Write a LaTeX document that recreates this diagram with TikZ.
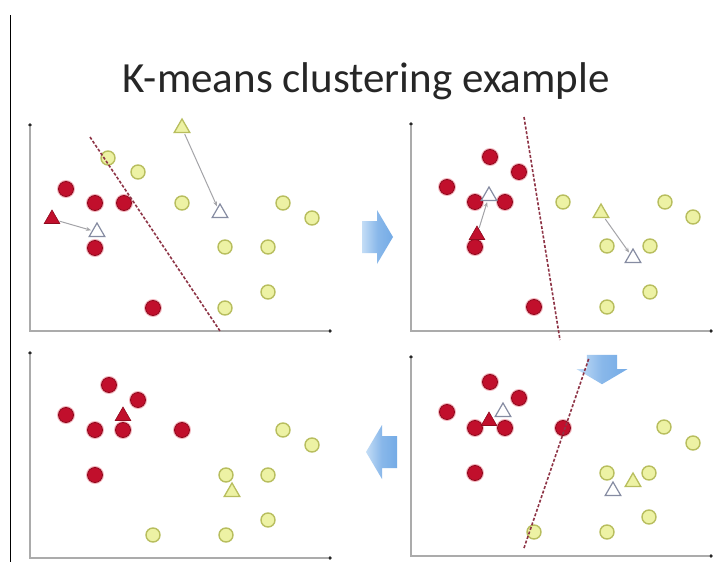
\documentclass[tikz,border=0pt]{standalone}
\usepackage{fontspec}
\setmainfont{Carlito}
\usetikzlibrary{shapes.geometric,arrows.meta}

\definecolor{ptred}{HTML}{C10F2C}
\definecolor{ptredline}{HTML}{8E0A1E}
\definecolor{ptredglow}{HTML}{F4B8C0}
\definecolor{ptyel}{HTML}{EDF2A4}
\definecolor{ptyelline}{HTML}{B8BE5E}
\definecolor{axisgray}{HTML}{ABABAB}
\definecolor{splitline}{HTML}{8E3446}
\definecolor{movegray}{HTML}{A4A4A8}
\definecolor{hollowline}{HTML}{868CA2}
\definecolor{stepblue}{HTML}{74ABE6}
\definecolor{stepbluelight}{HTML}{C4DDF6}

\tikzset{
  redpt/.style={circle, inner sep=0pt, minimum size=15pt, fill=ptred, draw=ptredline, line width=0.8pt,
    preaction={draw=ptredglow, line width=3pt}},
  yelpt/.style={circle, inner sep=0pt, minimum size=14pt, fill=ptyel, draw=ptyelline, line width=1.4pt},
  redtri/.style={regular polygon, regular polygon sides=3, inner sep=0pt, minimum size=18pt, fill=ptred, draw=ptredline, line width=0.6pt},
  yeltri/.style={regular polygon, regular polygon sides=3, inner sep=0pt, minimum size=18pt, fill=ptyel, draw=ptyelline, line width=1.3pt},
  hollowtri/.style={regular polygon, regular polygon sides=3, inner sep=0pt, minimum size=18pt, fill=white, draw=hollowline, line width=1.2pt},
  axisline/.style={draw=axisgray, line width=1.5pt},
  axisend/.style={circle, fill=black!85, inner sep=0pt, minimum size=3.8pt},
  splitter/.style={draw=splitline, line width=1.6pt, dash pattern=on 3pt off 1.8pt},
  moveline/.style={draw=movegray, line width=1pt, -{Stealth[length=5pt,width=4pt]}, shorten >=1pt, shorten <=1pt},
  blockarrow/.pic={
    \shade[left color=stepbluelight, right color=stepblue, middle color=stepblue!85]
      (-15,-16) -- (0,-16) -- (0,-27) -- (16,0) -- (0,27) -- (0,16) -- (-15,16) -- cycle;
  },
}

\begin{document}
\begin{tikzpicture}[x=1pt, y=-1pt]
\useasboundingbox (0,0) rectangle (716,562);
\fill[white] (0,0) rectangle (716,562);

% frame edge on the left
\coordinate (edgetop) at (10,15);
\coordinate (edgebot) at (10,562);
\draw[black, line width=1pt] (edgetop) -- (edgebot);

% title
\node[anchor=base, text=black!85, font=\fontsize{43}{50}\selectfont] (title) at (366,92) {K-means clustering example};

% axes of the four panels
\foreach \n/\cx/\cy/\ty in {a/30/331/125, b/411/331/124, c/30/558/353, d/411/556/357}{
  \coordinate (\n corner) at (\cx,\cy);
  \node[axisend] (\n top) at (\cx,\ty) {};
  \node[axisend] (\n right) at (\cx+300,\cy) {};
  \draw[axisline] (\n top) -- (\n corner) -- (\n right);
}

% step arrows between the panels
\pic (stepright) at (377,237) {blockarrow};
\pic[rotate=-90, scale=0.95] (stepdown) at (602,369) {blockarrow};
\pic[rotate=180] (stepleft) at (382,452) {blockarrow};

% ---- panel a: initial centres ----
\foreach \x/\y [count=\i] in {66/189, 95/203, 124/203, 95/248, 153/308}
  \node[redpt] (ar\i) at (\x,\y) {};
\foreach \x/\y [count=\i] in {108/158, 138/172, 182/203, 283/203, 312/218, 225/247, 268/247, 268/292, 225/308}
  \node[yelpt] (ay\i) at (\x,\y) {};
\node[redtri] (arc) at (52,219) {};
\node[hollowtri] (arn) at (97,232) {};
\node[yeltri] (ayc) at (182,128) {};
\node[hollowtri] (ayn) at (220,213) {};
\draw[moveline] (arc) -- (arn);
\draw[moveline] (ayc) -- (ayn);
\coordinate (asplit1) at (90,137);
\coordinate (asplit2) at (220,331);
\draw[splitter] (asplit1) -- (asplit2);

% ---- panel b: reassigned points ----
\foreach \x/\y [count=\i] in {490/157, 519/172, 447/187, 475/202, 505/202, 475/247, 534/307}
  \node[redpt] (br\i) at (\x,\y) {};
\foreach \x/\y [count=\i] in {563/202, 665/202, 693/217, 607/246, 650/246, 650/292, 607/307}
  \node[yelpt] (by\i) at (\x,\y) {};
\node[redtri] (brc) at (477,235) {};
\node[hollowtri] (brn) at (489,196) {};
\node[yeltri] (byc) at (601,213) {};
\node[hollowtri] (byn) at (633,258) {};
\draw[moveline] (brc) -- (brn);
\draw[moveline] (byc) -- (byn);
\coordinate (bsplit1) at (524,117);
\coordinate (bsplit2) at (560,340);
\draw[splitter] (bsplit1) -- (bsplit2);

% ---- panel d: next assignment ----
\foreach \x/\y [count=\i] in {490/382, 519/398, 447/412, 475/428, 505/428, 563/428, 475/473}
  \node[redpt] (dr\i) at (\x,\y) {};
\foreach \x/\y [count=\i] in {664/427, 693/443, 607/473, 649/473, 649/517, 607/532, 534/532}
  \node[yelpt] (dy\i) at (\x,\y) {};
\node[redtri] (drc) at (489,421) {};
\node[hollowtri] (drn) at (503,412) {};
\node[yeltri] (dyc) at (633,482) {};
\node[hollowtri] (dyn) at (613,491) {};
\coordinate (dsplit1) at (524,548);
\coordinate (dsplit2) at (589,358);
\draw[splitter] (dsplit1) -- (dsplit2);

% ---- panel c: final clusters ----
\foreach \x/\y [count=\i] in {109/385, 138/400, 66/415, 95/430, 123/430, 182/430, 95/475}
  \node[redpt] (cr\i) at (\x,\y) {};
\foreach \x/\y [count=\i] in {283/430, 312/445, 226/475, 268/475, 268/520, 226/535, 153/535}
  \node[yelpt] (cy\i) at (\x,\y) {};
\node[redtri] (crc) at (123,416) {};
\node[yeltri] (cyc) at (232,492) {};
\end{tikzpicture}
\end{document}
